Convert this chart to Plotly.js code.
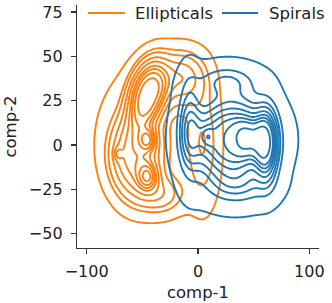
<!DOCTYPE html>
<html><head><meta charset="utf-8">
<script src="https://cdn.plot.ly/plotly-3.0.1.min.js"></script>
<style>body{margin:0;background:#fff}</style></head>
<body><div id="plot" style="width:332px;height:303px"></div>
<script>
// Groups and colours
const groups = ["Ellipticals", "Spirals"];
const groupColors = ["#ff7f0e", "#1f77b4"];
// Density components (centre, spread, tilt, flatness, weight)
const ellCx = [-45, -57, -45, -45, -72, 5, -15, -45, -35];
const ellCy = [29, -6, -18, 3, -5, 0, 38, 5, -28];
const ellSx = [13, 16, 6, 5, 2.5, 10, 14, 30, 14];
const ellSy = [14, 17, 5, 4, 2.5, 24, 10, 27, 7];
const ellRho = [0.3, 0, 0, 0, 0, 0, 0, 0, 0];
const ellPow = [1.3, 1.3, 1, 1, 1, 1, 1, 1, 1];
const ellW = [0.26, 0.24, 0.025, 0.015, 0.002, 0.07, 0.09, 0.20, 0.04];

const spiCx = [30, 62, -8, 44, 8, 25, 32, 35];
const spiCy = [3, 0, 10, 4, 5, 36, 3, -24];
const spiSx = [28, 8, 7, 8, 4, 18, 34, 20];
const spiSy = [18, 16, 18, 7, 4, 6, 24, 7];
const spiRho = [0, 0, 0, 0, 0, 0, 0, 0];
const spiPow = [1.5, 1.2, 1, 1, 1, 1, 1, 1];
const spiW = [0.40, 0.10, 0.07, 0.02, 0.003, 0.04, 0.20, 0.04];

const xTicks = [-100, 0, 100];
const yTicks = [-50, -25, 0, 25, 50, 75];
const isoProps = [0.05, 0.1556, 0.2611, 0.3667, 0.4722, 0.5778, 0.6833, 0.7889, 0.8944];

const gx = [], gy = [];
for (let v = -110; v <= 110; v += 1) gx.push(v);
for (let v = -62; v <= 82; v += 1) gy.push(v);

function density(cx, cy, sx, sy, rho, pw, w) {
  const z = [];
  for (const y of gy) {
    const row = [];
    for (const x of gx) {
      let s = 0;
      for (let k = 0; k < cx.length; k++) {
        const dx = (x - cx[k]) / sx[k], dy = (y - cy[k]) / sy[k], r = rho[k];
        const q = (dx * dx - 2 * r * dx * dy + dy * dy) / (1 - r * r);
        s += w[k] * Math.exp(-0.5 * Math.pow(q, pw[k])) / (sx[k] * sy[k] * Math.sqrt(1 - r * r));
      }
      row.push(s);
    }
    z.push(row);
  }
  return z;
}
function levelsFor(z) {
  const vals = z.flat().sort((a, b) => b - a);
  const tot = vals.reduce((a, b) => a + b, 0);
  const cum = []; let c = 0;
  for (const v of vals) { c += v; cum.push(c / tot); }
  return isoProps.map(p => {
    let i = cum.findIndex(v => v >= 1 - p);
    if (i < 0) i = vals.length - 1;
    return vals[i];
  });
}
const dens = [
  density(ellCx, ellCy, ellSx, ellSy, ellRho, ellPow, ellW),
  density(spiCx, spiCy, spiSx, spiSy, spiRho, spiPow, spiW)
];
const traces = [];
dens.forEach((z, gi) => {
  levelsFor(z).forEach(L => {
    traces.push({
      type: 'contour', x: gx, y: gy, z: z, showscale: false, showlegend: false,
      hoverinfo: 'skip',
      contours: {start: L, end: L, size: 1, coloring: 'lines'},
      colorscale: [[0, groupColors[gi]], [1, groupColors[gi]]],
      line: {width: 1.9, smoothing: 1.3}
    });
  });
});

// Hand-drawn legend (line swatch + label) above the plot
const legX0 = [0.0455, 0.599], legX1 = [0.198, 0.748], legTx = [0.231, 0.785], legY = 0.967;
const shapes = groups.map((g, gi) => ({
  type: 'line', xref: 'paper', yref: 'paper', x0: legX0[gi], x1: legX1[gi], y0: legY, y1: legY,
  line: {color: groupColors[gi], width: 2.2}
}));
const annotations = groups.map((g, gi) => ({
  text: g, xref: 'paper', yref: 'paper', x: legTx[gi], y: legY, xanchor: 'left', yanchor: 'middle',
  showarrow: false, font: {size: 16.5, color: '#222'}
}));

const layout = {
  width: 332, height: 303,
  margin: {l: 77, r: 13, t: 5, b: 55},
  paper_bgcolor: '#fff', plot_bgcolor: '#fff',
  font: {family: 'DejaVu Sans', size: 16, color: '#222'},
  showlegend: false, shapes: shapes, annotations: annotations,
  xaxis: {range: [-108.7, 108.7], tickvals: xTicks, ticktext: xTicks.map(v => v < 0 ? '\u2212' + (-v) : '' + v),
          showline: true, linecolor: '#333', linewidth: 1.2, ticks: 'outside', ticklen: 5, tickwidth: 1.2,
          tickcolor: '#333', showgrid: false, zeroline: false, ticklabelstandoff: 4,
          title: {text: 'comp-1', standoff: 6, font: {size: 16.5}}},
  yaxis: {range: [-58.1, 79], tickvals: yTicks, ticktext: yTicks.map(v => v < 0 ? '\u2212' + (-v) : '' + v),
          showline: true, linecolor: '#333', linewidth: 1.2, ticks: 'outside', ticklen: 5, tickwidth: 1.2,
          tickcolor: '#333', showgrid: false, zeroline: false, ticklabelstandoff: 5,
          title: {text: 'comp-2', standoff: 8, font: {size: 16.5}}}
};
Plotly.newPlot('plot', traces, layout, {displayModeBar: false, staticPlot: true});
</script></body></html>
